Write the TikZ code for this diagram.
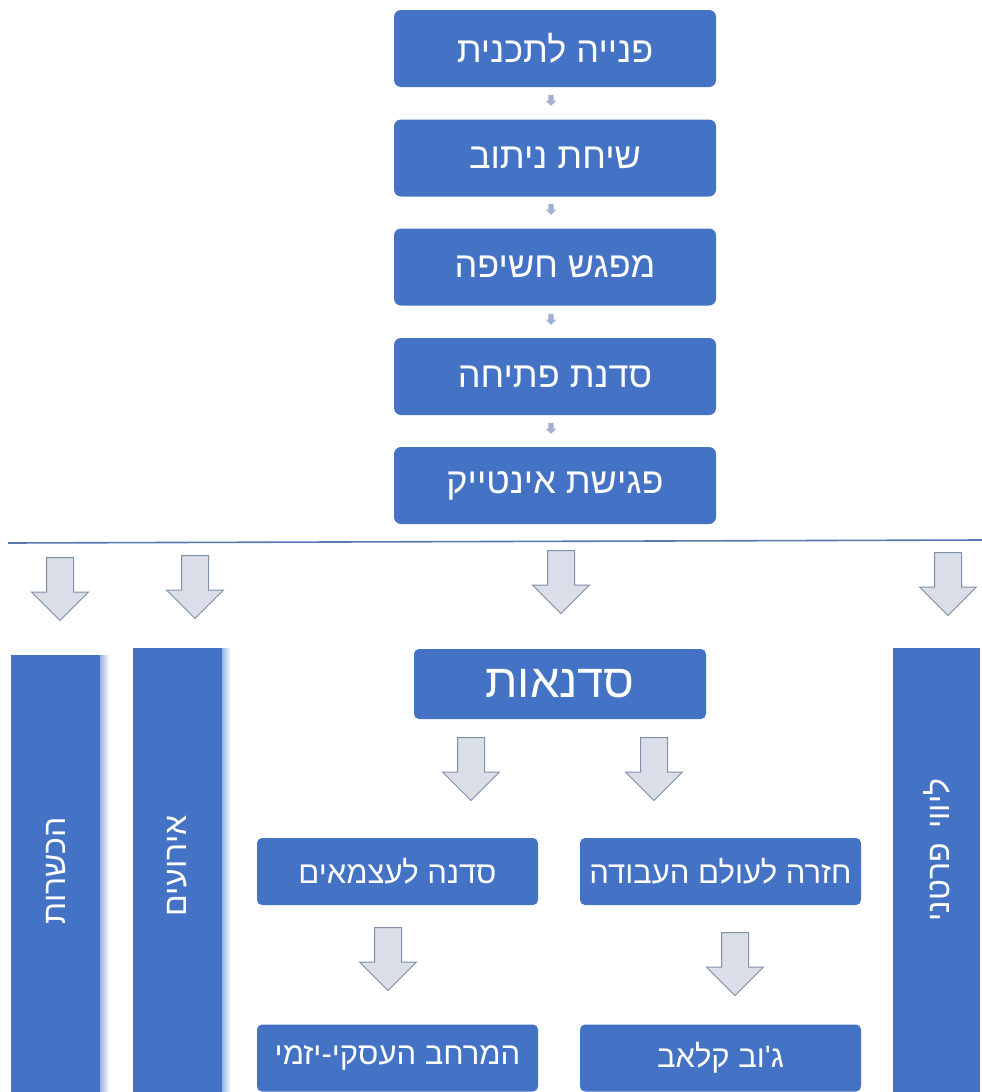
\documentclass[tikz,border=0pt]{standalone}
\usepackage{fontspec}
\newfontfamily\heb[Script=Hebrew]{Liberation Sans}
\TeXXeTstate=1
\usetikzlibrary{shapes.arrows}
\definecolor{boxblue}{HTML}{4472C4}
\definecolor{arrfill}{HTML}{D9DEE8}
\definecolor{arrdraw}{HTML}{8090A8}
\definecolor{smallarr}{HTML}{A3B0D6}
\definecolor{linecol}{HTML}{5A78B0}
\tikzset{
  x=1pt, y=-1pt,
  topbox/.style={fill=boxblue, rounded corners=7pt, minimum width=322pt, minimum height=77pt, inner sep=0pt, text=white, font=\heb\fontsize{36}{38}\selectfont},
  midbox/.style={fill=boxblue, rounded corners=5pt, minimum width=281pt, minimum height=67pt, inner sep=0pt, text=white, font=\heb\fontsize{31}{33}\selectfont},
  bar/.style={fill=boxblue, inner sep=0pt, text=white, font=\heb\fontsize{32}{34}\selectfont},
  barshadow/.style={left color=boxblue!55, right color=white},
  bigarrow/.style={single arrow, draw=arrdraw, fill=arrfill, line width=1pt, rotate=-90, inner xsep=0pt, inner ysep=13pt, minimum height=63pt, minimum width=0pt, single arrow head extend=15pt, single arrow tip angle=90, anchor=tail},
  smallarrow/.style={single arrow, fill=smallarr, rotate=-90, inner xsep=0pt, inner ysep=2.5pt, minimum height=11pt, minimum width=0pt, single arrow head extend=2.5pt, single arrow tip angle=90},
}
\begin{document}
\begin{tikzpicture}
\useasboundingbox (0,0) rectangle (982,1092);
\fill[white] (0,0) rectangle (982,1092);
% top chain
\node[topbox] (b1) at (555,48.5) {\beginR פנייה לתכנית\endR};
\node[topbox] (b2) at (555,158) {\beginR שיחת ניתוב\endR};
\node[topbox] (b3) at (555,267) {\beginR מפגש חשיפה\endR};
\node[topbox] (b4) at (555,376.5) {\beginR סדנת פתיחה\endR};
\node[topbox] (b5) at (555,485.5) {\beginR פגישת אינטייק\endR};
\node[smallarrow] (s1) at (551,99) {};
\node[smallarrow] (s2) at (551,208) {};
\node[smallarrow] (s3) at (551,318) {};
\node[smallarrow] (s4) at (551,427) {};
% separator line
\coordinate (l1) at (8,543);
\coordinate (l2) at (982,540);
\draw[linecol, line width=1.6pt] (l1) -- (l2);
% big arrows under the line
\node[bigarrow] (a1) at (60,557) {};
\node[bigarrow] (a2) at (195,555) {};
\node[bigarrow] (a3) at (561,550) {};
\node[bigarrow] (a4) at (948,552) {};
% vertical bars
\shade[barshadow] (100,655) rectangle (109,1092);
\path[bar] (11,655) rectangle (100,1092);
\node[bar, rotate=90] (v1) at (55.5,871) {\beginR הכשרות\endR};
\shade[barshadow] (222,648) rectangle (231,1092);
\path[bar] (133,648) rectangle (222,1092);
\node[bar, rotate=90] (v2) at (177.5,866) {\beginR אירועים\endR};
\path[bar] (893,648) rectangle (980,1092);
\node[bar, rotate=90] (v4) at (936.5,850) {\beginR ליווי\hspace{0.45em}פרטני\endR};
% workshops
\node[fill=boxblue, rounded corners=5pt, minimum width=292pt, minimum height=70pt, inner sep=0pt, text=white, font=\heb\fontsize{47}{49}\selectfont] (w) at (560,684) {\beginR סדנאות\endR};
\node[bigarrow] (a5) at (471,737) {};
\node[bigarrow] (a6) at (654,737) {};
\node[midbox] (m1) at (397.5,871.5) {\beginR סדנה לעצמאים\endR};
\node[midbox] (m2) at (720.5,871.5) {\beginR חזרה לעולם העבודה\endR};
\node[bigarrow] (a7) at (388,927) {};
\node[bigarrow] (a8) at (735,932) {};
\node[midbox] (m3) at (397.5,1058) {\beginR המרחב העסקי-יזמי\endR};
\node[midbox] (m4) at (720.5,1058) {\beginR ג'וב קלאב\endR};
\end{tikzpicture}
\end{document}
